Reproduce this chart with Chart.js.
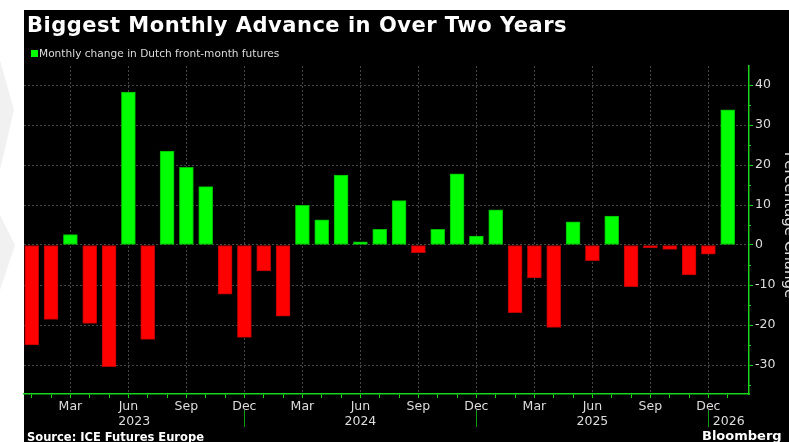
<!DOCTYPE html>
<html>
<head>
<meta charset="utf-8">
<script src="https://cdn.jsdelivr.net/npm/chart.js@4.4.1/dist/chart.umd.min.js"></script>
<style>
  html, body { margin: 0; padding: 0; background: #ffffff; }
  #wrap { position: relative; width: 789px; height: 442px; }
  canvas { display: block; }
</style>
</head>
<body>
<div id="wrap"><canvas id="c" width="789" height="442"></canvas></div>
<script>
// ---- Data ----
const categories = [
  'Jan 2023','Feb 2023','Mar 2023','Apr 2023','May 2023','Jun 2023','Jul 2023','Aug 2023','Sep 2023','Oct 2023','Nov 2023','Dec 2023',
  'Jan 2024','Feb 2024','Mar 2024','Apr 2024','May 2024','Jun 2024','Jul 2024','Aug 2024','Sep 2024','Oct 2024','Nov 2024','Dec 2024',
  'Jan 2025','Feb 2025','Mar 2025','Apr 2025','May 2025','Jun 2025','Jul 2025','Aug 2025','Sep 2025','Oct 2025','Nov 2025','Dec 2025',
  'Jan 2026'
];
const monthlyChange = [
  -25.0, -18.6, 2.6, -19.6, -30.4, 38.2, -23.6, 23.5, 19.4, 14.6, -12.3, -23.1,
  -6.5, -17.8, 9.9, 6.3, 17.5, 0.8, 3.9, 11.1, -1.9, 3.9, 17.8, 2.2,
  8.8, -16.9, -8.2, -20.6, 5.8, -3.9, 7.2, -10.4, -0.7, -1.1, -7.5, -2.3,
  33.8
];
const monthTickLabels = ['Mar', 'Jun', 'Sep', 'Dec'];
const yTickValues = [-30, -20, -10, 0, 10, 20, 30, 40];
const yMinorTickValues = [-35, -25, -15, -5, 5, 15, 25, 35];
const titleText = 'Biggest Monthly Advance in Over Two Years';
const legendText = 'Monthly change in Dutch front-month futures';
const yAxisTitle = 'Percentage Change';
const sourceText = 'Source: ICE Futures Europe';
const brandText = 'Bloomberg';

// ---- Styles ----
const GREEN = '#00ff00';
const RED = '#ff0000';
const AXIS_GREEN = '#19d419';
const FONT = '"DejaVu Sans", sans-serif';

const monthOf = (c) => c.split(' ')[0];
const yearOf = (c) => c.split(' ')[1];

const decor = {
  id: 'decor',
  beforeDraw(chart) {
    const ctx = chart.ctx;
    ctx.save();
    ctx.fillStyle = '#ffffff';
    ctx.fillRect(0, 0, 789, 442);
    ctx.fillStyle = '#f1f1f1';
    ctx.beginPath();
    ctx.moveTo(0, 60); ctx.lineTo(14, 110); ctx.lineTo(0, 170); ctx.closePath(); ctx.fill();
    ctx.beginPath();
    ctx.moveTo(0, 215); ctx.lineTo(15, 245); ctx.lineTo(0, 290); ctx.closePath(); ctx.fill();
    ctx.fillStyle = '#000000';
    ctx.fillRect(24, 10, 765, 432);
    ctx.restore();
  },
  afterDraw(chart) {
    const ctx = chart.ctx;
    const xs = chart.scales.x, ys = chart.scales.y;
    const area = chart.chartArea;
    ctx.save();
    // Title
    ctx.fillStyle = '#ffffff';
    ctx.font = 'bold 21px ' + FONT;
    ctx.letterSpacing = '0.5px';
    ctx.textBaseline = 'alphabetic';
    ctx.textAlign = 'left';
    ctx.fillText(titleText, 27, 32);
    ctx.letterSpacing = '0px';
    // Legend
    ctx.fillStyle = GREEN;
    ctx.fillRect(31, 50, 7, 7);
    ctx.fillStyle = '#dddddd';
    ctx.font = '10.6px ' + FONT;
    ctx.fillText(legendText, 39, 57);
    // Source & brand
    ctx.fillStyle = '#ffffff';
    ctx.font = 'bold 11.5px ' + FONT;
    ctx.fillText(sourceText, 27, 441);
    ctx.font = 'bold 13px ' + FONT;
    ctx.fillText(brandText, 702, 439.5);
    // Y minor ticks
    ctx.strokeStyle = AXIS_GREEN;
    ctx.lineWidth = 1;
    yMinorTickValues.forEach(v => {
      const y = Math.round(ys.getPixelForValue(v)) + 0.5;
      ctx.beginPath(); ctx.moveTo(area.right, y); ctx.lineTo(area.right + 2, y); ctx.stroke();
    });
    // Year separators and labels
    const seps = [];
    categories.forEach((c, i) => { if (monthOf(c) === 'Dec') seps.push(i); });
    ctx.strokeStyle = '#139a13';
    seps.forEach(i => {
      const x = Math.round(xs.getPixelForValue(i)) + 0.5;
      ctx.beginPath(); ctx.moveTo(x, 410); ctx.lineTo(x, 427); ctx.stroke();
    });
    const years = [...new Set(categories.map(yearOf))];
    const bounds = [xs.min, ...seps, xs.max];
    ctx.fillStyle = '#dddddd';
    ctx.font = '12.5px ' + FONT;
    ctx.textAlign = 'center';
    years.forEach((yr, k) => {
      const mid = (bounds[k] + bounds[k + 1]) / 2;
      ctx.fillText(yr, xs.getPixelForValue(mid), 425);
    });
    // Y axis title (rotated clockwise, partly off the edge)
    ctx.translate(784.5, 225);
    ctx.rotate(Math.PI / 2);
    ctx.fillStyle = '#dddddd';
    ctx.font = '15px ' + FONT;
    ctx.textAlign = 'center';
    ctx.textBaseline = 'alphabetic';
    ctx.fillText(yAxisTitle, 0, 0);
    ctx.restore();
  }
};

new Chart(document.getElementById('c'), {
  type: 'bar',
  data: {
    datasets: [{
      label: legendText,
      data: monthlyChange.map((v, i) => ({ x: i, y: v })),
      backgroundColor: monthlyChange.map(v => v >= 0 ? GREEN : RED),
      borderColor: monthlyChange.map(v => v >= 0 ? '#00b800' : '#b80000'),
      borderWidth: 1,
      borderSkipped: false,
      barThickness: 14
    }]
  },
  options: {
    responsive: false,
    animation: false,
    events: [],
    layout: { padding: { left: 24, top: 66, right: 0, bottom: 0 } },
    plugins: { legend: { display: false }, tooltip: { enabled: false }, title: { display: false } },
    scales: {
      x: {
        type: 'linear',
        offset: false,
        min: -0.4,
        max: 37.1,
        afterBuildTicks: (s) => { s.ticks = categories.map((c, i) => ({ value: i })); },
        afterFit: (s) => { s.height = 48; s.paddingLeft = 0; s.paddingRight = 0; },
        grid: {
          offset: false,
          color: (ctx) => {
            const c = categories[ctx.tick ? ctx.tick.value : -1];
            return c && monthTickLabels.includes(monthOf(c)) ? '#474747' : 'rgba(0,0,0,0)';
          },
          lineWidth: 1,
          tickColor: AXIS_GREEN,
          tickLength: 4,
          drawTicks: true
        },
        border: { color: AXIS_GREEN, width: 1.5, dash: [2, 2] },
        ticks: {
          autoSkip: false,
          maxRotation: 0,
          color: '#dddddd',
          font: { family: FONT, size: 12.5 },
          padding: 1,
          callback: (v) => {
            const c = categories[v];
            return c && monthTickLabels.includes(monthOf(c)) ? monthOf(c) : '';
          }
        }
      },
      y: {
        position: 'right',
        min: -37.25,
        max: 44.75,
        afterBuildTicks: (s) => { s.ticks = yTickValues.map(v => ({ value: v })); },
        afterFit: (s) => { s.width = 40; s.paddingTop = 0; s.paddingBottom = 0; },
        grid: {
          color: '#474747',
          lineWidth: 1,
          tickColor: AXIS_GREEN,
          tickLength: 4
        },
        border: { color: AXIS_GREEN, width: 1.5, dash: [2, 2] },
        ticks: {
          color: '#dddddd',
          font: { family: FONT, size: 12.5 },
          padding: 2
        }
      }
    }
  },
  plugins: [decor]
});
</script>
</body>
</html>
